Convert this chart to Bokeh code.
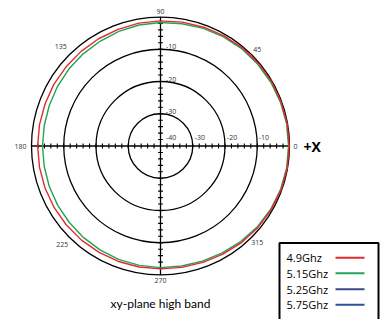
import numpy as np
from bokeh.plotting import figure
from bokeh.models import Range1d
from bokeh.core.properties import value
from bokeh.embed import file_html
from bokeh.resources import INLINE

# ---- data ----
angles_deg = [0, 10, 20, 30, 40, 50, 60, 70, 80, 90, 100, 110, 120, 130, 140, 150, 160, 170,
              180, 190, 200, 210, 220, 230, 240, 250, 260, 270, 280, 290, 300, 310, 320, 330, 340, 350]
gain_49 = [-0.1, -0.1, -0.2, -0.2, -0.3, -0.4, -0.6, -0.8, -1.0, -1.2, -1.3, -1.5, -1.6, -1.7, -1.8, -1.8, -1.9, -1.9,
           -1.9, -1.9, -1.9, -1.9, -1.9, -1.9, -1.9, -1.9, -1.9, -1.9, -1.8, -1.6, -1.3, -0.9, -0.6, -0.4, -0.2, -0.1]
gain_515 = [-0.3, -0.3, -0.4, -0.5, -0.6, -0.7, -0.9, -1.2, -1.5, -1.7, -1.9, -2.2, -2.5, -2.7, -2.9, -3.1, -3.3, -3.4,
            -3.4, -3.4, -3.3, -3.2, -3.1, -2.9, -2.7, -2.5, -2.4, -2.3, -2.2, -2.0, -1.7, -1.3, -0.9, -0.6, -0.4, -0.3]
series_names = ["4.9Ghz", "5.15Ghz", "5.25Ghz", "5.75Ghz"]
series_colors = ["#e32b2e", "#22a35a", "#3b4a8c", "#2a50a2"]
ring_db = [0, -10, -20, -30]
ring_labels = ["-10", "-20", "-30"]
h_labels = ["-40", "-30", "-20", "-10"]
angle_ticks = [0, 45, 90, 135, 180, 225, 270, 315]
r_min = -40
title_text = "xy-plane high band"

# ---- geometry (page px) ----
U = 3.225            # px per dB
CX, CY = 160.0, 145.5
W, H = 383, 319
label_radius_px = [135, 137, 135, 141, 140, 139, 134.5, 137]

def dx(px):
    return (px - CX) / U

def dy(py):
    return (CY - py) / U

p = figure(width=W, height=H, output_backend="svg", toolbar_location=None,
           x_range=Range1d(dx(0), dx(W)), y_range=Range1d(dy(H), dy(0)),
           min_border=0, outline_line_color=None)
p.axis.visible = False
p.grid.visible = False
p.background_fill_color = "white"

font = value("Open Sans")
font_t = value("Lato")

# rings
for db in ring_db:
    p.circle(x=0, y=0, radius=db - r_min, fill_color=None, line_color="black", line_width=1.3)

# axes through centre
R0 = 0 - r_min
p.segment(x0=[-R0, 0], y0=[0, -R0], x1=[R0, 0], y1=[0, R0], line_color="black", line_width=1.3)

# ticks every 2 dB
tick_r = [v - r_min for v in range(-38, 0, 2)]
th = 0.75
tx = tick_r + [-t for t in tick_r]
p.segment(x0=tx, y0=[-th] * len(tx), x1=tx, y1=[th] * len(tx), line_color="black", line_width=1.1)
p.segment(x0=[-th] * len(tx), y0=tx, x1=[th] * len(tx), y1=tx, line_color="black", line_width=1.1)

# curves
for vals, col in [(gain_49, series_colors[0]), (gain_515, series_colors[1])][::-1]:
    th_rad = np.radians(angles_deg + [angles_deg[0]])
    r = np.array(vals + [vals[0]]) - r_min
    p.line(x=r * np.cos(th_rad), y=r * np.sin(th_rad), line_color=col, line_width=1.4)

# angle labels
a = np.radians(angle_ticks)
lr = np.array(label_radius_px) / U
p.text(x=lr * np.cos(a), y=lr * np.sin(a), text=[str(t) for t in angle_ticks],
       text_font=font, text_font_size="7px", text_color="#333333",
       text_align="center", text_baseline="middle")

# dB labels on vertical axis
ring_r = [int(s) - r_min for s in ring_labels]
p.text(x=[5.5 / U] * 3, y=[rr + 2.5 / U for rr in ring_r], text=ring_labels,
       text_font=font, text_font_size="7px", text_color="#333333",
       text_align="left", text_baseline="middle")
# dB labels on horizontal axis
hr = [int(s) - r_min for s in h_labels]
offs = [5.5, 2.0, 2.0, 1.5]
p.text(x=[rr + o / U for rr, o in zip(hr, offs)], y=[8.8 / U] * 4, text=h_labels,
       text_font=font, text_font_size="7px", text_color="#333333",
       text_align="left", text_baseline="middle")

# +X
p.text(x=[dx(303)], y=[dy(146)], text=["+X"], text_font=font, text_font_size="14px",
       text_font_style="bold", text_color="black", text_align="left", text_baseline="middle")

# title
p.text(x=[dx(160)], y=[dy(303)], text=[title_text], text_font=font_t, text_font_size="12px",
       text_color="black", text_align="center", text_baseline="middle")

# legend box
p.quad(left=dx(279), right=dx(378), top=dy(242.5), bottom=dy(330),
       fill_color="white", line_color="black", line_width=2)
ly = [257.3, 272.8, 288.8, 304.3]
p.text(x=[dx(286)] * 4, y=[dy(v) for v in ly], text=series_names, text_font=font,
       text_font_size="11px", text_color="black", text_align="left", text_baseline="middle")
p.segment(x0=[dx(335)] * 4, y0=[dy(v) for v in ly], x1=[dx(364)] * 4, y1=[dy(v) for v in ly],
          line_color=series_colors, line_width=2)

open("out.html", "w").write(file_html(p, INLINE))
